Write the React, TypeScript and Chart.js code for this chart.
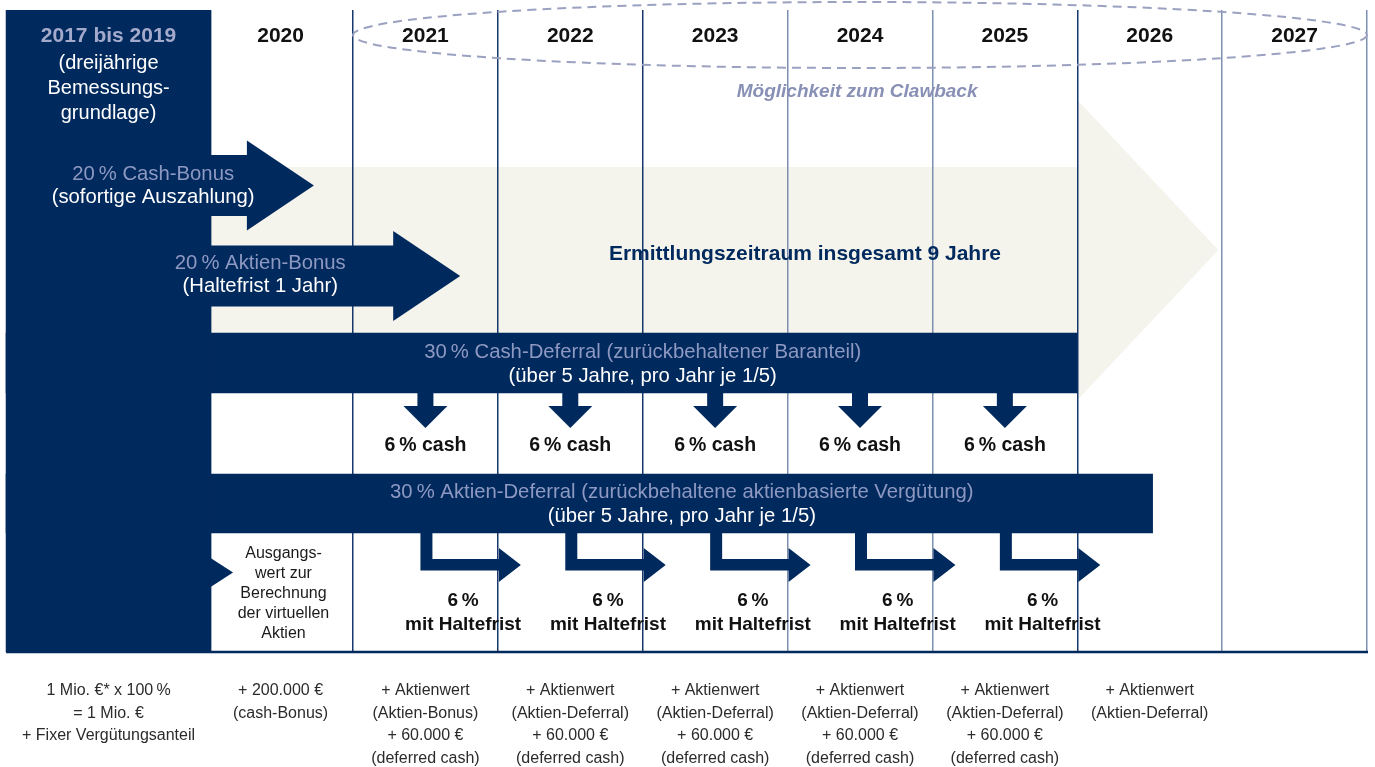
import React, { useEffect, useRef } from 'react';
import { Chart, registerables } from 'chart.js';

Chart.register(...registerables);

// ---------- data ----------
const yearColumns = [2020, 2021, 2022, 2023, 2024, 2025, 2026, 2027];
const yearBoundaries = [2021, 2022, 2023, 2024, 2025, 2026, 2027, 2028];
const basePeriodTitle = '2017 bis 2019';
const basePeriodNote = ['(dreijährige', 'Bemessungs-', 'grundlage)'];
const cashBonusPct = 20;
const aktienBonusPct = 20;
const cashDeferralPct = 30;
const aktienDeferralPct = 30;
const deferralYears = [2021, 2022, 2023, 2024, 2025];
const cashTranchePct = [6, 6, 6, 6, 6];
const aktienTranchePct = [6, 6, 6, 6, 6];
const totalPeriodYears = 9;
const clawbackLabel = 'Möglichkeit zum Clawback';
const startValueNote = ['Ausgangs-', 'wert zur', 'Berechnung', 'der virtuellen', 'Aktien'];
const baseNote = ['1 Mio. €* x 100\u2009%', '= 1 Mio. €', '+ Fixer Vergütungsanteil'];
const yearNotes: string[][] = [
  ['+ 200.000 €', '(cash-Bonus)'],
  ['+ Aktienwert', '(Aktien-Bonus)', '+ 60.000 €', '(deferred cash)'],
  ['+ Aktienwert', '(Aktien-Deferral)', '+ 60.000 €', '(deferred cash)'],
  ['+ Aktienwert', '(Aktien-Deferral)', '+ 60.000 €', '(deferred cash)'],
  ['+ Aktienwert', '(Aktien-Deferral)', '+ 60.000 €', '(deferred cash)'],
  ['+ Aktienwert', '(Aktien-Deferral)', '+ 60.000 €', '(deferred cash)'],
  ['+ Aktienwert', '(Aktien-Deferral)'],
  [],
];

// ---------- layout / style ----------
const FONT = '"Liberation Sans", Arial, Helvetica, sans-serif';
const NAVY = '#00295d';
const BEIGE = '#f4f3ec';
const LIGHT = '#8e99c2';
const TITLE_LIGHT = '#a4aacb';
const BAR_FONT = `20.3px ${FONT}`;
const L = {
  xMin: 2018.5631,
  xMax: 2028.0552,
  baseStart: 2018.605,
  baseEnd: 2020.02,
  cashBonusTip: 2020.73,
  aktienBonusTip: 2021.74,
  cashDeferralEnd: 2026,
  aktienDeferralEnd: 2026.52,
  periodEnd: 2026,
};
const P = '\u2009%';

const diagramPlugin = {
  id: 'diagram',
  beforeDraw(chart: any) {
    const { ctx } = chart;
    const xs = chart.scales.x;
    const ys = chart.scales.y;
    const X = (v: number) => xs.getPixelForValue(v);
    const Y = (v: number) => ys.getPixelForValue(v);
    ctx.save();
    ctx.fillStyle = '#ffffff';
    ctx.fillRect(0, 0, chart.width, chart.height);
    // big beige period arrow
    const bx = X(L.periodEnd);
    ctx.fillStyle = BEIGE;
    ctx.beginPath();
    ctx.moveTo(X(L.baseStart), Y(167));
    ctx.lineTo(bx, Y(167));
    ctx.lineTo(bx, Y(100));
    ctx.lineTo(bx + 141, Y(250));
    ctx.lineTo(bx, Y(400));
    ctx.lineTo(bx, Y(333));
    ctx.lineTo(X(L.baseStart), Y(333));
    ctx.closePath();
    ctx.fill();
    ctx.restore();
  },
  afterDatasetsDraw(chart: any) {
    const { ctx } = chart;
    const xs = chart.scales.x;
    const ys = chart.scales.y;
    const X = (v: number) => xs.getPixelForValue(v);
    const Y = (v: number) => ys.getPixelForValue(v);
    ctx.save();
    ctx.fillStyle = NAVY;
    const bonusArrow = (tip: number, cy: number) => {
      const tx = X(tip);
      const hb = tx - 67;
      ctx.beginPath();
      ctx.moveTo(X(L.baseEnd) - 2, Y(cy - 30.5));
      ctx.lineTo(hb, Y(cy - 30.5));
      ctx.lineTo(hb, Y(cy - 45));
      ctx.lineTo(tx, Y(cy));
      ctx.lineTo(hb, Y(cy + 45));
      ctx.lineTo(hb, Y(cy + 30.5));
      ctx.lineTo(X(L.baseEnd) - 2, Y(cy + 30.5));
      ctx.closePath();
      ctx.fill();
    };
    bonusArrow(L.cashBonusTip, 185.5);
    bonusArrow(L.aktienBonusTip, 276);
    // down arrows from cash deferral
    deferralYears.forEach((yr) => {
      const cx = X(yr + 0.5);
      ctx.fillRect(cx - 8, Y(390), 16, Y(406) - Y(390));
      ctx.beginPath();
      ctx.moveTo(cx - 22, Y(406));
      ctx.lineTo(cx + 22, Y(406));
      ctx.lineTo(cx, Y(428));
      ctx.closePath();
      ctx.fill();
    });
    // bent arrows from share deferral
    deferralYears.forEach((yr) => {
      const cx = X(yr + 0.5);
      const sl = cx - 5;
      const sr = cx + 7;
      const hb = X(yr + 1) + 1;
      const tip = hb + 22;
      ctx.beginPath();
      ctx.moveTo(sl, Y(530));
      ctx.lineTo(sr, Y(530));
      ctx.lineTo(sr, Y(559));
      ctx.lineTo(hb, Y(559));
      ctx.lineTo(hb, Y(548));
      ctx.lineTo(tip, Y(565));
      ctx.lineTo(hb, Y(582));
      ctx.lineTo(hb, Y(570.5));
      ctx.lineTo(sl, Y(570.5));
      ctx.closePath();
      ctx.fill();
    });
    // notch pointing to start value cell
    const nx = X(L.baseEnd);
    ctx.beginPath();
    ctx.moveTo(nx - 2, Y(557));
    ctx.lineTo(nx + 22, Y(572.5));
    ctx.lineTo(nx - 2, Y(588));
    ctx.closePath();
    ctx.fill();
    ctx.restore();
  },
  afterDraw(chart: any) {
    const { ctx } = chart;
    const xs = chart.scales.x;
    const ys = chart.scales.y;
    const X = (v: number) => xs.getPixelForValue(v);
    const Y = (v: number) => ys.getPixelForValue(v);
    const txt = (s: string, x: number, y: number, font: string, color: string) => {
      ctx.font = font;
      ctx.fillStyle = color;
      ctx.textAlign = 'center';
      ctx.textBaseline = 'middle';
      ctx.fillText(s, x, Y(y));
    };
    ctx.save();
    // bottom axis line
    ctx.strokeStyle = NAVY;
    ctx.lineWidth = 2.5;
    ctx.beginPath();
    ctx.moveTo(X(L.baseStart), Y(652));
    ctx.lineTo(X(2028) + 1, Y(652));
    ctx.stroke();
    // clawback ellipse
    ctx.strokeStyle = '#9ba1c0';
    ctx.lineWidth = 2;
    ctx.setLineDash([9, 6]);
    ctx.beginPath();
    const ecx = X(2024.5);
    ctx.ellipse(ecx, Y(35), X(2028) - ecx, Y(68) - Y(35), 0, 0, Math.PI * 2);
    ctx.stroke();
    ctx.setLineDash([]);

    // year labels
    yearColumns.forEach((yr) => txt(String(yr), X(yr + 0.5), 36, `bold 21px ${FONT}`, '#111111'));
    // base period column
    const bc = X((L.baseStart + L.baseEnd) / 2);
    txt(basePeriodTitle, bc, 36, `bold 21px ${FONT}`, TITLE_LIGHT);
    basePeriodNote.forEach((s, i) => txt(s, bc, 63 + i * 25, `20px ${FONT}`, '#ffffff'));
    // clawback
    txt(clawbackLabel, X(2024.48), 92, `italic bold 19px ${FONT}`, '#8890b6');
    // bonus texts
    txt(`${cashBonusPct}${P} Cash-Bonus`, X(2019.62), 174, BAR_FONT, LIGHT);
    txt('(sofortige Auszahlung)', X(2019.62), 197, BAR_FONT, '#ffffff');
    txt(`${aktienBonusPct}${P} Aktien-Bonus`, X(2020.36), 263, BAR_FONT, LIGHT);
    txt('(Haltefrist 1 Jahr)', X(2020.36), 286, BAR_FONT, '#ffffff');
    // period label
    txt(`Ermittlungszeitraum insgesamt ${totalPeriodYears} Jahre`, X(2024.12), 254, `bold 21px ${FONT}`, NAVY);
    // deferral bars
    txt(`${cashDeferralPct}${P} Cash-Deferral (zurückbehaltener Baranteil)`, X(2023.0), 352, BAR_FONT, LIGHT);
    txt('(über 5 Jahre, pro Jahr je 1/5)', X(2023.0), 376, BAR_FONT, '#ffffff');
    txt(`${aktienDeferralPct}${P} Aktien-Deferral (zurückbehaltene aktienbasierte Vergütung)`, X(2023.27), 492, BAR_FONT, LIGHT);
    txt('(über 5 Jahre, pro Jahr je 1/5)', X(2023.27), 516, BAR_FONT, '#ffffff');
    // tranches
    deferralYears.forEach((yr, i) => {
      txt(`${cashTranchePct[i]}${P} cash`, X(yr + 0.5), 446, `bold 19.5px ${FONT}`, '#111111');
      txt(`${aktienTranchePct[i]}${P}`, X(yr + 0.76), 601, `bold 19px ${FONT}`, '#111111');
      txt('mit Haltefrist', X(yr + 0.76), 625, `bold 19px ${FONT}`, '#111111');
    });
    // start value cell
    startValueNote.forEach((s, i) => txt(s, X(2020.52), 554 + i * 20, `16px ${FONT}`, '#1a1a1a'));
    // bottom notes
    baseNote.forEach((s, i) => txt(s, bc, 691 + i * 22.5, `16px ${FONT}`, '#2b2b2b'));
    yearNotes.forEach((lines, c) => {
      lines.forEach((s, i) => txt(s, X(yearColumns[c] + 0.5), 691 + i * 22.5, `16px ${FONT}`, '#2b2b2b'));
    });
    ctx.restore();
  },
};

const darkLines = new Set([2021, 2022, 2023, 2026]);

export default function App() {
  const ref = useRef<HTMLCanvasElement>(null);
  useEffect(() => {
    if (!ref.current) return;
    const chart = new Chart(ref.current, {
      type: 'bar',
      data: {
        datasets: [
          {
            label: 'Bemessungsgrundlage',
            data: [{ x: [L.baseStart, L.baseEnd], y: 331 }] as any,
            backgroundColor: NAVY,
            borderWidth: 0,
            barThickness: 642,
            grouped: false,
          } as any,
          {
            label: 'Cash-Deferral',
            data: [{ x: [L.baseStart, L.cashDeferralEnd], y: 363 }] as any,
            backgroundColor: NAVY,
            borderWidth: 0,
            barThickness: 60,
            grouped: false,
          } as any,
          {
            label: 'Aktien-Deferral',
            data: [{ x: [L.baseStart, L.aktienDeferralEnd], y: 503.5 }] as any,
            backgroundColor: NAVY,
            borderWidth: 0,
            barThickness: 59,
            grouped: false,
          } as any,
        ],
      },
      options: {
        indexAxis: 'y',
        responsive: false,
        animation: false,
        events: [],
        layout: { padding: { top: 10, bottom: 115, left: 0, right: 0 } },
        plugins: { legend: { display: false }, tooltip: { enabled: false } },
        scales: {
          x: {
            type: 'linear',
            min: L.xMin,
            max: L.xMax,
            display: true,
            offset: false,
            ticks: { display: false },
            border: { display: false },
            grid: {
              offset: false,
              drawTicks: false,
              tickLength: 0,
              lineWidth: 1.5,
              color: (c: any) => (darkLines.has(Math.round(c.tick?.value)) ? '#17386c' : '#7e90b2'),
            },
            afterBuildTicks: (s: any) => {
              s.ticks = yearBoundaries.map((v) => ({ value: v }));
            },
          },
          y: {
            type: 'linear',
            min: 10,
            max: 652,
            reverse: true,
            display: false,
            offset: false,
            grid: { offset: false },
          },
        },
      } as any,
      plugins: [diagramPlugin],
    });
    return () => chart.destroy();
  }, []);
  return (
    <div style={{ position: 'fixed', left: 0, top: 0, width: 1375, height: 767, background: '#fff' }}>
      <canvas ref={ref} width={1375} height={767} style={{ display: 'block', width: 1375, height: 767 }} />
    </div>
  );
}
